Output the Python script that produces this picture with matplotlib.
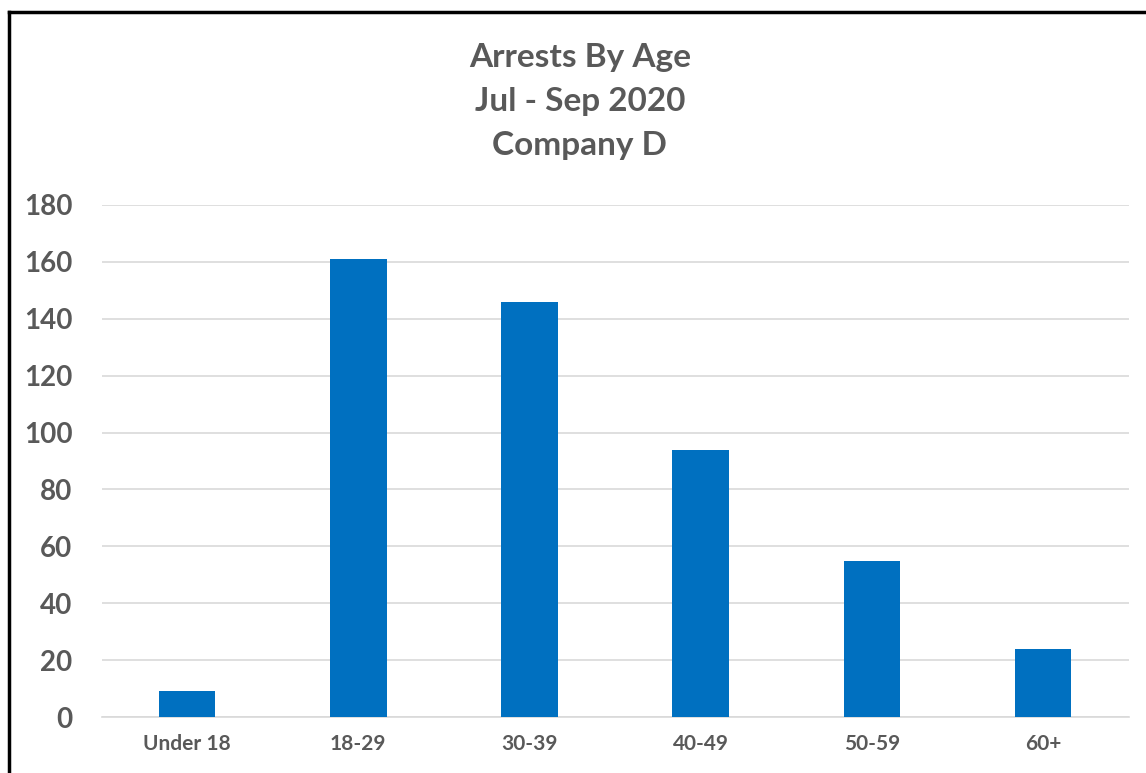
import matplotlib
matplotlib.use('Agg')
import matplotlib.pyplot as plt
from matplotlib.lines import Line2D

plt.rcParams['font.family'] = ['Lato', 'DejaVu Sans']

# 数据
age_groups = ['Under 18', '18-29', '30-39', '40-49', '50-59', '60+']
arrests = [9, 161, 146, 94, 55, 24]
y_ticks = [0, 20, 40, 60, 80, 100, 120, 140, 160, 180]

text_color = '#595959'

fig = plt.figure(figsize=(11.46, 7.73), dpi=100)
ax = fig.add_axes([0.0886, 0.0724, 0.8962, 0.6624])

ax.bar(age_groups, arrests, width=0.33, color='#0070C0', zorder=3)
ax.set_ylim(0, 180)
ax.set_xlim(-0.5, len(age_groups) - 0.5)
ax.set_yticks(y_ticks)
ax.yaxis.grid(True, color='#D9D9D9', linewidth=1.2, zorder=0)
for s in ax.spines.values():
    s.set_visible(False)
ax.spines['bottom'].set_visible(True)
ax.spines['bottom'].set_color('#D9D9D9')
ax.spines['bottom'].set_linewidth(1.2)
ax.tick_params(axis='both', length=0)
ax.tick_params(axis='y', labelsize=20, labelcolor=text_color, pad=21)
ax.tick_params(axis='x', labelsize=15, labelcolor=text_color, pad=12)
for lbl in ax.get_yticklabels() + ax.get_xticklabels():
    lbl.set_fontweight('bold')

# 标题
fig.text(0.506, 0.869, 'Arrests By Age\nJul - Sep 2020\nCompany D',
         ha='center', va='center', fontsize=24, fontweight='bold',
         color=text_color, linespacing=1.62)

# 左、上边框
fig.add_artist(Line2D([0.0075, 0.0075], [0, 0.985], transform=fig.transFigure,
                      color='black', linewidth=2.5))
fig.add_artist(Line2D([0.0075, 1.0], [0.985, 0.985], transform=fig.transFigure,
                      color='black', linewidth=2.5))

fig.savefig('out.png', dpi=100)
